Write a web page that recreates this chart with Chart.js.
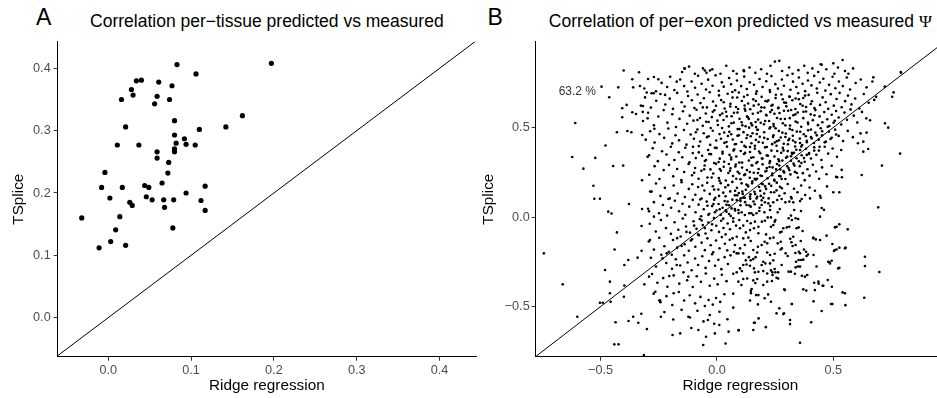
<!DOCTYPE html>
<html>
<head>
<meta charset="utf-8">
<title>Ridge regression vs TSplice</title>
<script src="https://cdn.jsdelivr.net/npm/chart.js@4.4.1/dist/chart.umd.min.js"></script>
<style>
  html, body { margin: 0; padding: 0; background: #fff; overflow: hidden; }
  body { position: relative; width: 937px; height: 398px; font-family: 'Liberation Sans', Arial, sans-serif; }
  canvas { position: absolute; top: 0; }
  #chart-a { left: 0; }
  #chart-b { left: 470px; }
  .tag { position: absolute; top: 4px; font-size: 23px; line-height: 26px; color: #000; }
  .title { position: absolute; top: 10.6px; font-size: 17.5px; line-height: 20px; color: #000; text-align: center; white-space: nowrap; }
  .psi { font-family: 'Liberation Serif', 'DejaVu Serif', serif; }
</style>
</head>
<body>
<div class="tag" style="left:36px">A</div>
<div class="title" style="left:57.7px; width:418.3px">Correlation per−tissue predicted vs measured</div>
<div class="tag" style="left:487.5px">B</div>
<div class="title" style="left:535.7px; width:409.3px">Correlation of per−exon predicted vs measured <span class="psi">Ψ</span></div>
<canvas id="chart-a" width="480" height="398"></canvas>
<canvas id="chart-b" width="480" height="398"></canvas>
<script>
'use strict';

// ******** DATA **************

// panel A: one point per tissue
let tissueRidge = [-0.032, -0.011, -0.008, -0.004, 0.002, 0.003, 0.009, 0.014, 0.016, 0.011, 0.017, 0.021, 0.021, 0.026,
  0.028, 0.029, 0.030, 0.034, 0.037, 0.040, 0.044, 0.046, 0.049, 0.053, 0.056, 0.059, 0.059, 0.059, 0.061, 0.065, 0.067,
  0.068, 0.072, 0.073, 0.074, 0.077, 0.078, 0.079, 0.080, 0.080, 0.080, 0.080, 0.083, 0.082, 0.092, 0.094, 0.094, 0.105,
  0.106, 0.110, 0.112, 0.117, 0.117, 0.142, 0.162, 0.197];
let tissueTSplice = [0.160, 0.112, 0.209, 0.233, 0.192, 0.122, 0.141, 0.162, 0.350, 0.277, 0.209, 0.306, 0.116, 0.185,
  0.366, 0.180, 0.357, 0.380, 0.277, 0.381, 0.212, 0.194, 0.209, 0.189, 0.343, 0.266, 0.256, 0.355, 0.378, 0.216, 0.189,
  0.177, 0.232, 0.249, 0.350, 0.372, 0.144, 0.189, 0.271, 0.266, 0.316, 0.293, 0.406, 0.280, 0.287, 0.278, 0.200, 0.277,
  0.391, 0.302, 0.188, 0.172, 0.211, 0.306, 0.324, 0.408];

// panel B: one point per exon, [ridge, tsplice]
// TSplice above 0.5
let exonTop = [
  [-0.15,0.81],[-0.12,0.84],[-0.095,0.80],[-0.06,0.83],[-0.045,0.805],[-0.02,0.825],[0.015,0.80],[0.04,0.845],[0.07,0.815],
  [0.085,0.80],[0.115,0.82],[0.14,0.835],[0.165,0.805],[0.19,0.825],[0.215,0.80],[0.23,0.845],[0.28,0.815],[0.31,0.835],
  [0.325,0.80],[0.35,0.82],[0.375,0.845],[0.39,0.805],[0.41,0.83],[0.435,0.81],[0.47,0.825],[0.505,0.80],[0.52,0.835],
  [0.55,0.815],[0.565,0.80],[0.585,0.83],
  [-0.312,0.718],[-0.296,0.771],[-0.262,0.702],[-0.238,0.749],[-0.214,0.726],[-0.201,0.783],[-0.183,0.709],[-0.158,0.768],
  [-0.141,0.731],[-0.127,0.701],[-0.109,0.757],[-0.094,0.722],[-0.081,0.789],[-0.066,0.744],[-0.047,0.712],[-0.038,0.767],
  [-0.019,0.733],[-0.006,0.791],[0.008,0.705],[0.021,0.752],[0.029,0.728],[0.052,0.776],[0.061,0.741],[0.078,0.708],
  [0.086,0.762],[0.104,0.731],[0.117,0.784],[0.128,0.715],[0.141,0.752],[0.159,0.739],[0.171,0.702],[0.183,0.771],
  [0.196,0.726],[0.212,0.758],[0.227,0.709],[0.234,0.787],[0.251,0.742],[0.262,0.717],[0.279,0.768],[0.288,0.733],
  [0.303,0.792],[0.316,0.711],[0.327,0.756],[0.341,0.726],[0.352,0.779],[0.368,0.744],[0.379,0.703],[0.391,0.762],
  [0.406,0.735],[0.418,0.788],[0.429,0.718],[0.442,0.751],[0.457,0.772],[0.466,0.706],[0.482,0.738],[0.497,0.783],
  [0.509,0.719],[0.524,0.757],[0.541,0.731],[0.558,0.779],[0.572,0.712],[0.596,0.748],[0.618,0.768],[0.643,0.724],[0.668,0.757],
  [-0.327,0.622],[-0.309,0.668],[-0.284,0.611],[-0.261,0.649],[-0.243,0.687],[-0.222,0.628],[-0.203,0.661],[-0.189,0.604],
  [-0.171,0.693],[-0.152,0.641],[-0.139,0.617],[-0.124,0.676],[-0.108,0.652],[-0.097,0.609],[-0.083,0.684],[-0.071,0.636],
  [-0.056,0.663],[-0.043,0.612],[-0.031,0.697],[-0.017,0.645],[-0.004,0.621],[0.009,0.679],[0.018,0.653],[0.033,0.606],
  [0.046,0.688],[0.058,0.632],[0.067,0.667],[0.082,0.614],[0.094,0.695],[0.107,0.648],[0.119,0.623],[0.131,0.681],
  [0.143,0.602],[0.156,0.657],[0.168,0.689],[0.179,0.628],[0.192,0.671],[0.204,0.611],[0.216,0.645],[0.228,0.698],
  [0.239,0.626],[0.252,0.664],[0.263,0.607],[0.277,0.684],[0.289,0.639],[0.298,0.618],[0.311,0.673],[0.324,0.652],
  [0.337,0.603],[0.349,0.691],[0.358,0.631],[0.371,0.665],[0.383,0.614],[0.394,0.682],[0.408,0.646],[0.419,0.608],
  [0.431,0.694],[0.443,0.626],[0.454,0.668],[0.467,0.641],[0.478,0.604],[0.489,0.686],[0.502,0.622],[0.514,0.659],
  [0.527,0.693],[0.536,0.613],[0.551,0.647],[0.563,0.678],[0.578,0.629],[0.594,0.662],[0.612,0.606],[0.631,0.687],
  [0.652,0.638],[0.684,0.671],
  [-0.318,0.536],[-0.296,0.582],[-0.271,0.512],[-0.252,0.561],[-0.229,0.597],[-0.213,0.527],[-0.192,0.574],[-0.176,0.503],
  [-0.161,0.548],[-0.146,0.591],[-0.128,0.521],[-0.117,0.566],[-0.101,0.538],[-0.088,0.599],[-0.073,0.553],[-0.061,0.509],
  [-0.048,0.578],[-0.036,0.531],[-0.022,0.558],[-0.011,0.596],[0.004,0.514],[0.013,0.569],[0.028,0.542],[0.039,0.588],
  [0.051,0.506],[0.063,0.563],[0.072,0.527],[0.088,0.583],[0.097,0.549],[0.109,0.512],[0.122,0.594],[0.133,0.557],
  [0.147,0.523],[0.154,0.577],[0.168,0.502],[0.177,0.544],[0.188,0.591],[0.202,0.518],[0.213,0.567],[0.224,0.536],
  [0.236,0.598],[0.244,0.507],[0.258,0.553],[0.269,0.581],[0.283,0.524],[0.292,0.547],[0.306,0.593],[0.314,0.511],
  [0.328,0.568],[0.338,0.533],[0.347,0.584],[0.362,0.504],[0.371,0.552],[0.383,0.589],[0.392,0.519],[0.403,0.573],
  [0.412,0.541],[0.423,0.597],[0.434,0.513],[0.441,0.562],[0.453,0.529],[0.461,0.586],[0.474,0.546],[0.483,0.508],
  [0.493,0.571],[0.506,0.537],[0.512,0.592],[0.523,0.556],[0.534,0.517],[0.548,0.583],[0.559,0.543],[0.574,0.601],
  [0.588,0.566],[0.603,0.528],[0.623,0.587],[0.642,0.551]
];
// TSplice between 0 and 0.5
let exonMid = [
  [-0.306,0.432],[-0.287,0.479],[-0.268,0.416],[-0.247,0.463],[-0.227,0.442],[-0.209,0.494],[-0.192,0.411],[-0.178,0.457],
  [-0.163,0.428],[-0.142,0.486],[-0.131,0.404],[-0.113,0.461],[-0.099,0.437],[-0.084,0.489],[-0.072,0.422],[-0.057,0.468],
  [-0.043,0.446],[-0.029,0.403],[-0.018,0.482],[-0.003,0.427],[0.011,0.463],[0.022,0.497],[0.032,0.414],[0.047,0.452],
  [0.053,0.476],[0.068,0.433],[0.077,0.406],[0.089,0.491],[0.094,0.456],[0.106,0.419],[0.114,0.474],[0.127,0.441],
  [0.138,0.499],[0.148,0.412],[0.153,0.468],[0.167,0.431],[0.176,0.487],[0.184,0.448],[0.197,0.415],[0.203,0.473],
  [0.218,0.436],[0.226,0.494],[0.237,0.407],[0.243,0.457],[0.257,0.423],[0.266,0.481],[0.274,0.444],[0.287,0.409],
  [0.296,0.466],[0.307,0.429],[0.313,0.492],[0.326,0.454],[0.337,0.417],[0.343,0.477],[0.356,0.438],[0.366,0.402],
  [0.373,0.462],[0.386,0.426],[0.392,0.484],[0.404,0.447],[0.417,0.413],[0.423,0.471],[0.437,0.432],[0.446,0.496],
  [0.452,0.456],[0.468,0.421],[0.481,0.477],[0.493,0.443],[0.508,0.488],[0.523,0.453],[0.542,0.424],[0.562,0.481],
  [0.584,0.446],[0.606,0.412],[0.617,0.467],
  [-0.298,0.336],[-0.276,0.384],[-0.254,0.312],[-0.236,0.367],[-0.217,0.349],[-0.198,0.392],[-0.183,0.318],[-0.164,0.361],
  [-0.149,0.334],[-0.136,0.387],[-0.118,0.306],[-0.104,0.357],[-0.091,0.329],[-0.078,0.396],[-0.064,0.342],[-0.052,0.313],
  [-0.038,0.374],[-0.026,0.351],[-0.012,0.302],[-0.002,0.386],[0.012,0.326],[0.024,0.364],[0.031,0.309],[0.043,0.393],
  [0.054,0.347],[0.061,0.321],[0.074,0.378],[0.083,0.338],[0.096,0.304],[0.102,0.369],[0.116,0.352],[0.124,0.391],
  [0.137,0.316],[0.142,0.363],[0.156,0.334],[0.163,0.382],[0.174,0.307],[0.186,0.356],[0.193,0.327],[0.207,0.389],
  [0.214,0.344],[0.228,0.312],[0.234,0.371],[0.247,0.338],[0.256,0.398],[0.264,0.322],[0.276,0.359],[0.283,0.386],
  [0.297,0.331],[0.304,0.368],[0.318,0.314],[0.324,0.352],[0.336,0.394],[0.342,0.328],[0.357,0.374],[0.364,0.345],
  [0.377,0.309],[0.383,0.381],[0.396,0.357],[0.404,0.327],[0.418,0.389],[0.427,0.348],[0.438,0.371],[0.449,0.318],
  [0.463,0.392],[0.478,0.354],[0.497,0.383],[0.516,0.336],[0.534,0.374],
  [-0.291,0.236],[-0.268,0.284],[-0.247,0.212],[-0.229,0.262],[-0.206,0.291],[-0.188,0.227],[-0.171,0.268],[-0.153,0.206],
  [-0.141,0.251],[-0.122,0.296],[-0.107,0.233],[-0.094,0.274],[-0.079,0.214],[-0.067,0.258],[-0.053,0.288],[-0.041,0.221],
  [-0.028,0.266],[-0.016,0.243],[-0.004,0.297],[0.008,0.218],[0.017,0.259],[0.029,0.281],[0.038,0.204],[0.049,0.246],
  [0.058,0.272],[0.069,0.229],[0.081,0.293],[0.089,0.253],[0.101,0.211],[0.108,0.276],[0.121,0.238],[0.129,0.262],
  [0.141,0.219],[0.149,0.289],[0.158,0.247],[0.166,0.208],[0.179,0.268],[0.187,0.232],[0.196,0.294],[0.208,0.254],
  [0.217,0.216],[0.226,0.279],[0.238,0.243],[0.247,0.203],[0.254,0.266],[0.268,0.288],[0.273,0.227],[0.286,0.256],
  [0.294,0.212],[0.307,0.274],[0.316,0.238],[0.329,0.298],[0.335,0.252],[0.348,0.221],[0.356,0.284],[0.369,0.245],
  [0.377,0.206],[0.389,0.267],[0.398,0.231],[0.412,0.292],[0.426,0.254],[0.439,0.214],[0.452,0.277],[0.471,0.239],
  [0.493,0.286],[0.512,0.224],[0.536,0.263],
  [-0.287,0.142],[-0.262,0.187],[-0.243,0.118],[-0.224,0.163],[-0.203,0.104],[-0.186,0.176],[-0.169,0.131],[-0.152,0.194],
  [-0.138,0.112],[-0.121,0.157],[-0.106,0.183],[-0.093,0.124],[-0.081,0.167],[-0.066,0.103],[-0.054,0.148],[-0.042,0.191],
  [-0.031,0.129],[-0.018,0.172],[-0.007,0.108],[0.006,0.154],[0.016,0.189],[0.027,0.136],[0.037,0.116],[0.048,0.178],
  [0.057,0.143],[0.066,0.196],[0.077,0.121],[0.086,0.163],[0.094,0.134],[0.106,0.188],[0.113,0.108],[0.124,0.152],
  [0.133,0.176],[0.144,0.127],[0.152,0.199],[0.161,0.141],[0.173,0.113],[0.181,0.168],[0.192,0.186],[0.203,0.131],
  [0.211,0.157],[0.222,0.104],[0.233,0.174],[0.246,0.138],[0.257,0.192],[0.268,0.119],[0.279,0.161],[0.291,0.133],
  [0.304,0.184],[0.318,0.112],[0.331,0.158],[0.346,0.138],[0.362,0.176],[0.379,0.123],[0.398,0.165],[0.421,0.147],
  [0.446,0.108],[0.473,0.171],
  [-0.296,0.046],[-0.271,0.083],[-0.249,0.021],[-0.232,0.067],[-0.214,0.008],[-0.197,0.052],[-0.181,0.091],[-0.163,0.032],
  [-0.148,0.074],[-0.136,0.013],[-0.119,0.058],[-0.104,0.096],[-0.092,0.027],[-0.079,0.069],[-0.068,0.004],[-0.057,0.043],
  [-0.044,0.086],[-0.033,0.018],[-0.021,0.061],[-0.012,0.097],[-0.002,0.036],[0.007,0.073],[0.016,0.012],[0.024,0.052],
  [0.033,0.089],[0.041,0.029],[0.052,0.066],[0.059,0.006],[0.063,0.048],[0.077,0.045],[0.092,0.039],[0.106,0.026],
  [0.12,0.011],[0.127,0.067],[0.139,0.021],[0.145,0.058],[0.156,0.011],[0.162,0.071],[0.17,0.021],[0.182,0.034],
  [0.085,0.095],[0.102,0.104],[0.12,0.108],[0.142,0.114],[0.17,0.104],[0.199,0.108],[0.192,0.067],[0.206,0.082],
  [0.221,0.076],[0.242,0.082],[0.259,0.095],[0.278,0.101],[0.294,0.082],[0.311,0.086],[0.328,0.082],[0.357,0.089],
  [0.321,0.104],[0.364,0.101],[0.4,0.104],[0.443,0.119],[0.27,0.045],[0.261,0.026],[0.228,0.039],[0.318,0.008],
  [0.332,0.039],[0.361,0.034]
];
// extra points in the dense core of the cloud
let exonCore = [
  [0.031,0.472],[0.118,0.397],[0.207,0.536],[0.264,0.611],[-0.047,0.318],[0.152,0.288],[0.338,0.662],[0.083,0.214],
  [-0.012,0.153],[0.241,0.447],[0.176,0.582],[0.294,0.512],[0.057,0.617],[-0.084,0.542],[0.139,0.064],[0.219,0.342],
  [0.372,0.588],[0.012,0.268],[0.106,0.529],[0.327,0.427],[-0.036,0.451],[0.188,0.118],[0.253,0.683],[0.071,0.371],
  [0.403,0.631],[-0.063,0.176],[0.131,0.458],[0.286,0.372],[0.167,0.648],[0.046,0.086],[0.229,0.501],[0.358,0.476],
  [-0.018,0.588],[0.096,0.243],[0.313,0.552],[0.147,0.331],[0.204,0.026],[0.062,0.524],[0.271,0.169],[-0.103,0.392],
  [0.179,0.419],[0.391,0.528],[0.024,0.354],[0.119,0.604],[0.247,0.577],[0.343,0.246],[-0.072,0.098],[0.162,0.213],
  [0.088,0.454],[0.297,0.638],[0.011,0.203],[0.214,0.391],[0.137,0.547],[0.363,0.302],[-0.027,0.497],[0.078,0.146],
  [0.281,0.471],[0.191,0.612],[0.041,0.419],[0.232,0.138],[0.108,0.304],[0.319,0.598],[-0.055,0.267],[0.173,0.487],
  [0.259,0.369],[0.066,0.698],[0.148,0.021],[0.382,0.451],[0.002,0.538],[0.221,0.652],[0.127,0.181],[0.302,0.284],
  [-0.091,0.473],[0.196,0.327],[0.056,0.258],[0.274,0.547],[0.163,0.398],[0.352,0.658],[0.093,0.022],[0.237,0.233],
  [-0.009,0.387],[0.116,0.672],[0.311,0.437],[0.183,0.052],[0.042,0.562],[0.248,0.416],[0.141,0.251],[0.419,0.568],
  [-0.041,0.063],[0.211,0.571],[0.082,0.408],[0.331,0.359],[0.158,0.622],[0.009,0.118],[0.267,0.312],[0.123,0.507],
  [0.379,0.678],[-0.078,0.361],[0.197,0.183],[0.061,0.332],[0.288,0.593],[0.171,0.464],[0.029,0.641],[0.226,0.301],
  [0.101,0.089],[0.346,0.528],[-0.023,0.221],[0.142,0.391],[0.256,0.149],[0.073,0.582],[0.305,0.406],[0.188,0.526],
  [-0.061,0.612],[0.117,0.234],[0.234,0.621],[0.036,0.166],[0.169,0.301],[0.324,0.486],[0.087,0.667],[0.203,0.442],
  [0.017,0.437],[0.278,0.212],[0.129,0.562],[0.386,0.347],[-0.046,0.532],[0.157,0.087],[0.243,0.519],[0.051,0.296],
  [0.313,0.671],[0.181,0.366],[0.097,0.491],[0.266,0.428],[-0.015,0.072],[0.214,0.274],[0.134,0.634],[0.357,0.413],
  [0.023,0.578],[0.192,0.093],[0.079,0.282],[0.294,0.447],[0.151,0.512],[0.404,0.489],[-0.033,0.352],[0.229,0.586],
  [0.111,0.129],[0.283,0.658],[0.061,0.462],[0.176,0.246],[0.337,0.573],[0.007,0.307],[0.252,0.496],[0.121,0.358],
  [0.368,0.621],[-0.098,0.247],[0.208,0.648],[0.038,0.038],[0.166,0.531],[0.272,0.266],[0.091,0.603],[0.318,0.339],
  [0.145,0.451],[0.229,0.061]
];
// TSplice below 0
let exonLow = [
  [-0.289,-0.038],[-0.263,-0.081],[-0.241,-0.017],[-0.219,-0.062],[-0.198,-0.094],[-0.182,-0.029],[-0.166,-0.071],
  [-0.147,-0.008],[-0.133,-0.053],[-0.116,-0.087],[-0.101,-0.024],[-0.088,-0.066],[-0.074,-0.011],[-0.061,-0.045],
  [-0.049,-0.092],[-0.037,-0.031],[-0.024,-0.074],[-0.013,-0.006],[-0.003,-0.049],[0.009,-0.083],[0.018,-0.021],
  [0.028,-0.061],[0.037,-0.097],[0.046,-0.036],[0.056,-0.068],[0.07,-0.007],[0.07,-0.026],[0.082,-0.048],[0.096,-0.017],
  [0.099,-0.063],[0.113,-0.048],[0.13,-0.022],[0.145,-0.035],[0.163,-0.026],[0.178,-0.054],[0.193,-0.026],[0.206,-0.021],
  [0.218,-0.002],[0.232,-0.002],[0.232,-0.054],[0.242,-0.045],[0.248,-0.026],[0.251,-0.017],[0.271,-0.086],[0.278,-0.082],
  [0.285,-0.063],[0.3,-0.058],[0.311,-0.054],[0.342,-0.063],[0.351,-0.058],[0.368,-0.078],[0.308,-0.007],[0.322,-0.017],
  [0.338,-0.007],[0.349,-0.011],[0.159,-0.063],[0.142,-0.073],[0.124,-0.086],[0.178,-0.091],[0.507,-0.058],[0.526,-0.041],
  [0.471,-0.104],
  [-0.293,-0.137],[-0.271,-0.182],[-0.248,-0.116],[-0.226,-0.163],[-0.207,-0.194],[-0.189,-0.128],[-0.171,-0.171],
  [-0.156,-0.109],[-0.139,-0.152],[-0.121,-0.188],[-0.107,-0.124],[-0.093,-0.166],[-0.078,-0.102],[-0.066,-0.143],
  [-0.052,-0.185],[-0.041,-0.119],[-0.027,-0.158],[-0.016,-0.197],[-0.004,-0.131],[0.011,-0.174],[0.021,-0.112],
  [0.034,-0.149],[0.044,-0.186],[0.055,-0.127],[0.067,-0.119],[0.085,-0.11],[0.113,-0.119],[0.135,-0.115],[0.145,-0.134],
  [0.077,-0.156],[0.099,-0.175],[0.12,-0.156],[0.073,-0.194],[0.113,-0.203],[0.092,-0.203],[0.156,-0.184],[0.173,-0.198],
  [0.176,-0.166],[0.192,-0.156],[0.205,-0.138],[0.216,-0.147],[0.211,-0.097],[0.228,-0.119],[0.243,-0.115],[0.261,-0.147],
  [0.274,-0.138],[0.279,-0.175],[0.274,-0.181],[0.315,-0.121],[0.328,-0.11],[0.32,-0.141],[0.325,-0.162],[0.338,-0.156],
  [0.36,-0.134],[0.352,-0.194],[0.337,-0.201],[0.374,-0.181],[0.383,-0.194],[0.414,-0.115],[0.425,-0.125],[0.443,-0.128],
  [0.496,-0.151],[0.503,-0.19],[0.514,-0.181],[0.526,-0.171],[0.553,-0.171],
  [-0.284,-0.228],[-0.262,-0.276],[-0.239,-0.211],[-0.218,-0.257],[-0.193,-0.289],[-0.177,-0.236],[-0.158,-0.271],
  [-0.141,-0.214],[-0.126,-0.254],[-0.109,-0.297],[-0.094,-0.232],[-0.081,-0.268],[-0.063,-0.219],[-0.049,-0.284],
  [-0.034,-0.246],[-0.021,-0.208],[-0.008,-0.272],[0.006,-0.239],[0.019,-0.291],[0.033,-0.224],[0.047,-0.262],
  [0.058,-0.214],[0.085,-0.203],[0.145,-0.242],[0.156,-0.235],[0.166,-0.224],[0.137,-0.224],[0.124,-0.242],[0.113,-0.268],
  [0.127,-0.265],[0.142,-0.272],[0.099,-0.287],[0.107,-0.302],[0.159,-0.287],[0.163,-0.309],[0.199,-0.25],[0.208,-0.259],
  [0.242,-0.242],[0.228,-0.259],[0.192,-0.268],[0.228,-0.212],[0.248,-0.205],[0.216,-0.198],[0.304,-0.218],[0.295,-0.203],
  [0.34,-0.25],[0.351,-0.24],[0.362,-0.24],[0.371,-0.238],[0.385,-0.218],[0.415,-0.212],[0.391,-0.209],[0.338,-0.281],
  [0.348,-0.276],[0.428,-0.276],[0.478,-0.25],[0.486,-0.259],[0.493,-0.244],[0.526,-0.283],[0.232,-0.298],[0.248,-0.29],
  [0.178,-0.306],[0.199,-0.302],[0.216,-0.315],[0.308,-0.305],
  [-0.279,-0.318],[-0.256,-0.367],[-0.231,-0.341],[-0.213,-0.389],[-0.186,-0.326],[-0.162,-0.372],[-0.144,-0.309],
  [-0.128,-0.353],[-0.104,-0.391],[-0.087,-0.331],[-0.069,-0.362],[-0.048,-0.315],[-0.031,-0.384],[-0.012,-0.344],
  [0.003,-0.376],[0.021,-0.322],[0.041,-0.358],[0.07,-0.317],[0.085,-0.309],[0.238,-0.309],[0.251,-0.309],[0.263,-0.309],
  [0.239,-0.324],[0.256,-0.339],[0.263,-0.343],[0.113,-0.346],[0.13,-0.343],[0.156,-0.354],[0.165,-0.369],[0.173,-0.346],
  [0.092,-0.361],[0.105,-0.38],[0.199,-0.38],[0.216,-0.361],[0.236,-0.357],[0.335,-0.317],[0.365,-0.328],[0.388,-0.324],
  [0.418,-0.367],[0.437,-0.372],[0.454,-0.384],[0.289,-0.404],[0.149,-0.402],[0.146,-0.413],
  [-0.272,-0.428],[-0.243,-0.476],[-0.217,-0.442],[-0.192,-0.491],[-0.164,-0.419],[-0.141,-0.466],[-0.117,-0.437],
  [-0.094,-0.482],[-0.071,-0.446],[-0.052,-0.497],[-0.036,-0.463],[-0.018,-0.489],[-0.004,-0.452],[0.014,-0.474],
  [0.032,-0.431],[0.07,-0.428],[0.142,-0.466],[0.168,-0.436],[0.178,-0.436],[0.22,-0.432],[0.232,-0.473],[0.176,-0.488],
  [0.384,-0.411],[0.415,-0.471],[0.496,-0.486],[0.54,-0.421],[0.322,-0.486],
  [-0.226,-0.531],[-0.188,-0.572],[-0.152,-0.518],[-0.116,-0.561],[-0.084,-0.524],[-0.058,-0.583],[-0.031,-0.547],
  [-0.012,-0.596],[0.011,-0.529],[0.045,-0.571],[0.07,-0.506],[0.256,-0.538],[0.285,-0.542],[0.179,-0.566],[0.159,-0.59],
  [-0.11,-0.62],[0.05,-0.64],[0.21,-0.615],[0.093,-0.633]
];
// dense streak along the identity line
let exonDiag = [
  [0.012,0.043],[0.027,-0.009],[0.041,0.068],[0.052,0.017],[0.066,0.097],[0.078,0.036],[0.087,0.121],[0.101,0.066],
  [0.109,0.142],[0.121,0.083],[0.134,0.171],[0.143,0.102],[0.151,0.188],[0.164,0.128],[0.172,0.214],[0.186,0.147],
  [0.193,0.229],[0.207,0.171],[0.213,0.258],[0.224,0.186],[0.239,0.277],[0.246,0.208],[0.258,0.296],[0.267,0.229],
  [0.281,0.316],[0.289,0.248],[0.302,0.337],[0.311,0.262],[0.322,0.358],[0.333,0.287],[0.341,0.376],[0.352,0.311],
  [0.362,0.394],[0.374,0.329],[0.386,0.418],[0.395,0.352],[0.407,0.439],[0.418,0.371],[0.429,0.456],[0.441,0.392],
  [0.452,0.479],[0.463,0.417],[0.476,0.504],[0.488,0.436],[0.501,0.526],[0.512,0.461],[-0.009,0.027],[-0.021,-0.041],
  [-0.037,0.012],[-0.052,-0.062],[-0.066,-0.019],[-0.081,-0.097],[-0.098,-0.048],[-0.112,-0.131],[-0.131,-0.083],
  [-0.152,-0.162],[-0.171,-0.118],[-0.194,-0.211]
];
// scattered points away from the bulk
let exonOuter = [
  [-0.744,-0.203],[-0.663,-0.376],[-0.609,0.525],[-0.622,0.335],[-0.6,-0.557],[-0.574,0.27],[-0.531,0.175],[-0.523,0.33],
  [-0.527,0.102],[-0.503,0.102],[-0.496,0.728],[-0.503,-0.479],[-0.491,-0.479],[-0.481,-0.296],[-0.479,0.399],[-0.463,0.669],
  [-0.467,0.03],[-0.453,0.02],[-0.46,-0.361],[-0.46,-0.426],[-0.457,-0.473],[-0.446,0.285],[-0.44,-0.181],[-0.436,-0.588],
  [-0.441,-0.711],[-0.423,-0.711],[-0.43,0.473],[-0.43,-0.086],[-0.424,0.724],[-0.401,0.818],[-0.407,0.607],[-0.407,0.557],
  [-0.403,0.287],[-0.398,-0.268],[-0.398,-0.382],[-0.4,-0.445],[-0.388,0.626],[-0.385,0.48],[-0.378,0.073],[-0.381,-0.24],
  [-0.38,-0.581],[-0.368,0.473],[-0.364,0.769],[-0.364,0.585],[-0.36,0.724],[-0.36,-0.557],[-0.348,0.575],[-0.335,0.808],
  [-0.341,-0.227],[-0.338,-0.59],[-0.331,0.732],[-0.325,-0.54],[-0.322,0.205],[-0.322,0.045],[-0.321,0.458],[-0.324,-0.05],
  [-0.324,-0.188],[-0.314,-0.771],[-0.312,-0.376],[-0.318,0.62],[-0.319,0.587],[-0.302,0.695],[-0.301,-0.626],[-0.298,0.551],
  [-0.292,0.345],[-0.292,0.032],[-0.292,-0.333],[-0.288,-0.128],[-0.281,0.691],[-0.272,0.691],[-0.281,0.142],[-0.271,0.782],
  [-0.271,0.002],[-0.269,0.493],[-0.265,-0.417],[-0.252,0.769],[-0.248,-0.466],[-0.244,-0.466],[-0.241,-0.557],[-0.234,-0.231],
  [-0.223,0.682],[-0.216,-0.203],[-0.209,0.101],[-0.205,-0.33],[-0.191,-0.659],[-0.186,-0.426],[-0.173,0.756],[-0.173,-0.268],
  [-0.158,-0.65],[-0.138,0.829],[-0.123,-0.333],[-0.123,-0.557],[-0.08,-0.631],[-0.059,-0.715],[-0.047,-0.669],[-0.052,0.818],
  [-0.03,0.818],[-0.039,-0.575],[-0.009,-0.65],[0.01,-0.603],[0.037,-0.706],[0.093,-0.631],[0.116,0.814],[0.146,-0.426],
  [0.156,-0.631],[0.163,-0.59],[0.205,-0.454],[0.249,0.868],[0.268,0.872],[0.268,-0.51],[0.288,-0.538],[0.314,-0.575],
  [0.314,-0.598],[0.322,-0.486],[0.357,-0.702],[0.405,-0.588],[0.45,-0.525],[0.446,0.853],[0.49,-0.486],[0.5,0.858],
  [0.54,0.877],[0.552,-0.492],[0.55,-0.426],[0.633,-0.451],[0.636,-0.222],[0.636,-0.274],[0.698,-0.307],[0.693,0.054],
  [0.709,0.287],[0.787,0.354],[0.722,0.523],[0.736,0.499],[0.721,0.728],[0.759,0.696],[0.753,0.672],[0.791,0.806],
  [0.672,0.78],[0.676,0.654],[0.658,0.54],[0.643,0.471],[0.629,0.421],[0.65,0.38],[0.629,0.365],[0.622,0.235],
  [0.562,-0.069],[0.55,-0.175],[0.514,-0.054],[0.526,0.138],[0.537,0.222],[0.5,0.138],[0.517,0.222],[0.521,-0.287],
  [0.506,-0.184],[0.483,-0.253],[0.494,-0.389],[0.476,-0.352],[0.457,-0.384],[0.436,-0.361],[0.421,-0.408],[0.414,-0.119],
  [0.443,0.002],[0.45,0.05],[0.46,0.04],[0.378,-0.333],[0.371,-0.404],[0.357,-0.277],[0.357,-0.203],[0.318,-0.305],
  [0.292,-0.408],[0.278,-0.268],[-0.14,0.83],[0.45,0.85],[0.79,0.81]
];

// axes
let ticksA = [0, 0.1, 0.2, 0.3, 0.4];
let ticksB = [-0.5, 0, 0.5];
let ridgeRangeA = [-0.061, 0.444];
let tspliceRangeA = [-0.0626, 0.4427];
let ridgeRangeB = [-0.779, 0.98];
let tspliceRangeB = [-0.78, 0.979];
let identityLine = [-1, 1];   // y = x reference line
let noteText = '63.2 %';
let notePos = [-0.6, 0.7];

// *********** HELPER FUNCTIONS ***************

Chart.defaults.font.family = "'Liberation Sans', Arial, sans-serif";

function formatTick(value) {
  return value.toFixed(1).replace('-', '\u2212');
}

function makeScale(range, ticks, title, size, titlePadding, tickPadding) {
  return {
    type: 'linear',
    min: range[0],
    max: range[1],
    afterBuildTicks: function (axis) {
      axis.ticks = ticks.map(v => ({ value: v }));
    },
    afterFit: function (axis) {
      if (axis.isHorizontal()) {
        axis.height = size;
      } else {
        axis.width = size;
      }
    },
    grid: { drawOnChartArea: false, drawTicks: true, tickLength: 4, color: '#333', lineWidth: 1 },
    border: { display: true, color: '#000', width: 1 },
    ticks: { color: '#4d4d4d', padding: tickPadding, font: { size: 12.7 }, callback: formatTick },
    title: { display: true, text: title, color: '#000', font: { size: 15.3 }, padding: titlePadding }
  };
}

function lineDataset() {
  return {
    data: identityLine.map(v => ({ x: v, y: v })),
    showLine: true,
    borderColor: '#000',
    borderWidth: 1,
    pointRadius: 0
  };
}

// text label inside panel B
let notePlugin = {
  id: 'note',
  afterDatasetsDraw(chart) {
    let ctx = chart.ctx;
    ctx.save();
    ctx.font = "12px 'Liberation Sans', Arial, sans-serif";
    ctx.fillStyle = '#333';
    ctx.textAlign = 'center';
    ctx.textBaseline = 'middle';
    ctx.fillText(noteText, chart.scales.x.getPixelForValue(notePos[0]), chart.scales.y.getPixelForValue(notePos[1]));
    ctx.restore();
  }
};

// ************** PANEL A ************************

let tissuePoints = tissueRidge.map((r, i) => ({ x: r, y: tissueTSplice[i] }));

new Chart(document.getElementById('chart-a'), {
  type: 'scatter',
  data: {
    datasets: [
      { data: tissuePoints, pointRadius: 2.6, backgroundColor: '#000', borderWidth: 0 },
      lineDataset()
    ]
  },
  options: {
    responsive: false,
    animation: false,
    events: [],
    layout: { padding: { top: 41.7, right: 4, left: 0, bottom: 0 } },
    plugins: { legend: { display: false }, tooltip: { enabled: false } },
    scales: {
      x: makeScale(ridgeRangeA, ticksA, 'Ridge regression', 41.3, { top: 0, bottom: 3.1 }, 2.3),
      y: makeScale(tspliceRangeA, ticksA, 'TSplice', 57.7, { top: 9.5, bottom: 0 }, 3)
    }
  }
});

// ************** PANEL B ************************

let exonPoints = exonTop.concat(exonMid, exonCore, exonLow, exonDiag, exonOuter).map(p => ({ x: p[0], y: p[1] }));

new Chart(document.getElementById('chart-b'), {
  type: 'scatter',
  data: {
    datasets: [
      { data: exonPoints, pointRadius: 1.3, backgroundColor: '#000', borderWidth: 0 },
      lineDataset()
    ]
  },
  options: {
    responsive: false,
    animation: false,
    events: [],
    layout: { padding: { top: 41.7, right: 5, left: 0, bottom: 0 } },
    plugins: { legend: { display: false }, tooltip: { enabled: false } },
    scales: {
      x: makeScale(ridgeRangeB, ticksB, 'Ridge regression', 41.3, { top: 0, bottom: 3.1 }, 2.3),
      y: makeScale(tspliceRangeB, ticksB, 'TSplice', 65.7, { top: 9.5, bottom: 0 }, 2)
    }
  },
  plugins: [notePlugin]
});
</script>
</body>
</html>
